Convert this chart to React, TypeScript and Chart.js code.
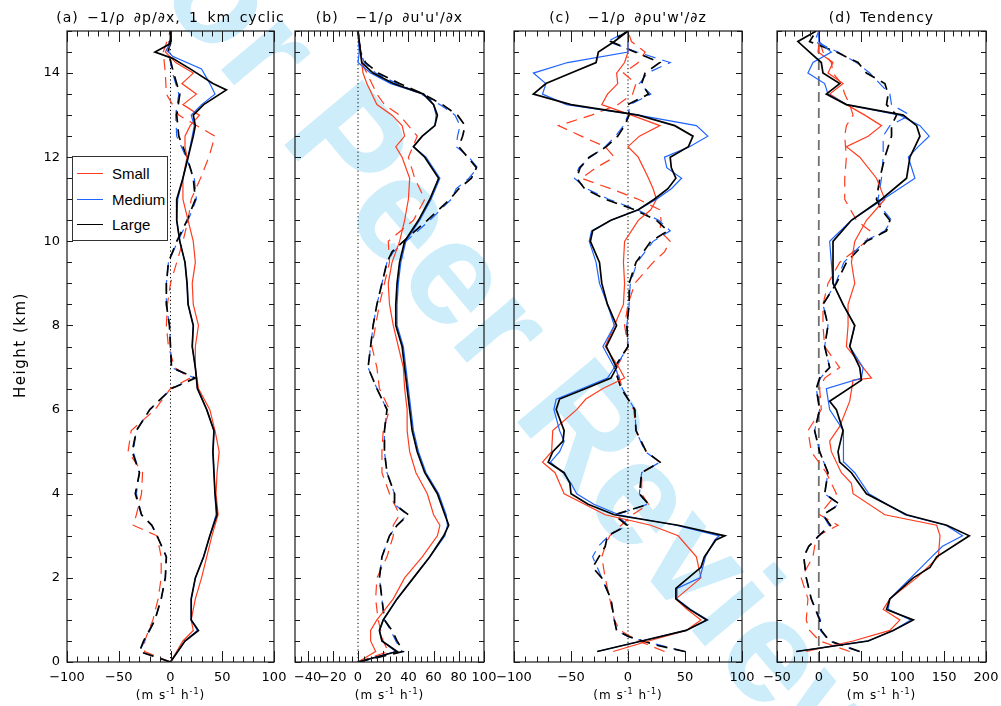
import React, { useEffect, useRef } from "react";
import { Chart, registerables } from "chart.js";

Chart.register(...registerables);

type Pair = [number, number]; // [height (km), value (m s-1 h-1)]

// ---------- tick labels ----------
const HEIGHT_TICKS = [0, 2, 4, 6, 8, 10, 12, 14];
const X_TICKS_A = [-100, -50, 0, 50, 100];
const X_TICKS_B = [-40, -20, 0, 20, 40, 60, 80, 100];
const X_TICKS_C = [-100, -50, 0, 50, 100];
const X_TICKS_D = [-50, 0, 50, 100, 150, 200];
const LEGEND_LABELS = ["Small", "Medium", "Large"];

// ---------- (a) pressure gradient ----------
const A_SMALL: Pair[] = [[0,0],[0.5,12],[0.75,22],[1,20],[1.5,24],[2,30],[2.5,35],[3,40],[3.5,46],[4,44],[4.5,45],[5,47],[5.5,43],[6,38],[6.5,27],[7,24],[7.5,24],[8,27],[8.5,22],[9,21],[9.5,24],[10,22],[10.5,17],[11,12],[11.5,12],[12,16],[12.25,14],[12.5,14],[12.75,19],[13,28],[13.25,12],[13.5,25],[13.75,11],[14,22],[14.25,5],[14.5,-5],[14.7,0],[15,0]];
const A_MEDIUM: Pair[] = [[0,0],[0.5,14],[0.75,26],[1,20],[1.5,20],[2,24],[2.5,32],[3,38],[3.5,44],[4,43],[4.5,42],[5,41],[5.5,42],[6,35],[6.5,26],[7,24],[7.5,21],[8,22],[8.5,17],[9,16],[9.5,14],[10,9],[10.5,6],[11,7],[11.5,12],[12,17],[12.5,21],[12.75,23],[13,20],[13.25,30],[13.5,43],[13.75,38],[14.1,30],[14.4,2],[14.55,-4],[14.7,0],[15,0]];
const A_LARGE: Pair[] = [[0,0],[0.5,14],[0.75,27],[1,20],[1.5,20],[2,24],[2.5,32],[3,38],[3.5,45],[4,43],[4.5,42],[5,41],[5.5,42],[6,35],[6.5,26],[7,24],[7.5,21],[8,22],[8.5,17],[9,16],[9.5,14],[10,9],[10.5,6],[11,6],[11.5,12],[12,17],[12.5,22],[12.75,24],[13,22],[13.25,32],[13.6,54],[13.75,41],[14.1,19],[14.35,2],[14.5,-15],[14.7,0],[15,0]];
const A_SMALL_D: Pair[] = [[0,0],[0.25,-25],[0.5,-25],[1,-17],[1.5,-12],[2,-9],[2.5,-9],[3,-13],[3.25,-36],[3.5,-33],[4,-28],[4.5,-27],[5,-41],[5.5,-38],[6,-15],[6.5,0],[6.75,19],[7,4],[7.5,-2],[8,-4],[8.5,-3],[9,0],[9.5,6],[10,12],[10.5,17],[11,20],[11.5,29],[12,37],[12.5,43],[13,8],[13.5,-4],[14,-5],[14.5,-7],[15,0]];
const A_MEDIUM_D: Pair[] = [[0,0],[0.25,-30],[0.5,-25],[1,-15],[1.5,-9],[2,-5],[2.5,-4],[3,-13],[3.25,-18],[3.5,-28],[4,-33],[4.5,-30],[5,-36],[5.5,-33],[6,-20],[6.5,1],[6.75,23],[7,1],[7.5,0],[8,-1],[8.5,-4],[9,-4],[9.5,-2],[10,7],[10.5,17],[11,25],[11.5,23],[12,15],[12.5,6],[13,5],[13.5,8],[14,2],[14.5,-2],[15,0]];
const A_LARGE_D: Pair[] = [[0,0],[0.25,-30],[0.5,-26],[1,-15],[1.5,-9],[2,-5],[2.5,-4],[3,-13],[3.25,-18],[3.5,-28],[4,-34],[4.5,-30],[5,-37],[5.5,-33],[6,-20],[6.5,1],[6.75,24],[7,1],[7.5,0],[8,-1],[8.5,-4],[9,-4],[9.5,-2],[10,6],[10.5,16],[11,24],[11.5,22],[12,16],[12.5,8],[13,6],[13.5,9],[14,3],[14.5,-2],[15,0]];

// ---------- (b) horizontal flux convergence ----------
const B_SMALL: Pair[] = [[0,0],[0.25,14],[0.5,10],[0.75,10],[1,15],[1.5,28],[2,37],[2.5,51],[3,63],[3.25,65],[3.5,60],[4,55],[4.5,46],[5,41],[5.5,39],[6,39],[6.5,37],[7,36],[7.5,32],[8,28],[8.5,25],[9,24],[9.5,27],[10,33],[10.5,37],[11,40],[11.5,41],[12,35],[12.25,30],[12.5,37],[12.75,35],[13,27],[13.25,15],[13.5,11],[13.75,7],[14,4],[14.5,2],[15,0]];
const B_MEDIUM: Pair[] = [[0,0],[0.25,30],[0.5,19],[0.75,17],[1,20],[1.5,31],[2,44],[2.5,57],[3,69],[3.25,71],[3.5,70],[4,64],[4.5,54],[5,48],[5.5,44],[6,42],[6.5,40],[7,38],[7.5,36],[8,31],[8.5,31],[9,32],[9.5,34],[10,38],[10.5,49],[11,58],[11.5,65],[12,54],[12.25,44],[12.5,51],[12.75,61],[13,62],[13.25,60],[13.5,52],[13.75,26],[14,10],[14.25,0],[14.5,1],[15,0]];
const B_LARGE: Pair[] = [[0,0],[0.25,31],[0.5,19],[0.75,17],[1,20],[1.5,31],[2,44],[2.5,57],[3,68],[3.25,72],[3.5,69],[4,63],[4.5,53],[5,47],[5.5,43],[6,41],[6.5,39],[7,37],[7.5,35],[8,30],[8.5,30],[9,31],[9.5,33],[10,37],[10.5,48],[11,57],[11.5,64],[12,53],[12.25,44],[12.5,51],[12.75,61],[13,63],[13.25,60],[13.5,52],[13.75,28],[14,12],[14.25,3],[14.5,2],[15,0]];
const B_SMALL_D: Pair[] = [[0,0],[0.25,24],[0.5,20],[1,16],[1.5,14],[2,15],[2.5,23],[3,28],[3.25,28],[3.5,33],[4,25],[4.5,19],[5,19],[5.5,20],[6,25],[6.5,17],[7,15],[7.5,11],[8,14],[8.5,17],[9,21],[9.5,25],[10,24],[10.5,44],[11,53],[11.5,45],[12,40],[12.5,47],[12.75,40],[13,33],[13.25,21],[13.5,15],[13.75,11],[14,7],[14.25,3],[14.5,2],[15,0]];
const B_MEDIUM_D: Pair[] = [[0,0],[0.25,35],[0.5,30],[0.75,26],[1,21],[1.5,19],[2,17],[2.5,19],[3,25],[3.25,31],[3.5,39],[3.75,29],[4,29],[4.5,23],[5,21],[5.5,21],[6,23],[6.5,15],[7,8],[7.5,10],[8,12],[8.5,15],[9,19],[9.5,23],[9.75,28],[10,38],[10.5,57],[11,74],[11.25,78],[11.5,88],[11.75,95],[12,88],[12.25,78],[12.5,79],[12.75,81],[13,77],[13.25,65],[13.5,50],[13.75,31],[14,14],[14.25,5],[14.5,2],[15,0]];
const B_LARGE_D: Pair[] = [[0,0],[0.25,36],[0.5,31],[0.75,27],[1,21],[1.5,19],[2,17],[2.5,19],[3,25],[3.25,31],[3.5,40],[3.75,29],[4,29],[4.5,23],[5,21],[5.5,21],[6,23],[6.5,15],[7,8],[7.5,10],[8,12],[8.5,15],[9,19],[9.5,23],[9.75,27],[10,36],[10.5,55],[11,73],[11.25,80],[11.5,90],[11.75,94],[12,87],[12.25,80],[12.5,83],[12.75,85],[13,79],[13.25,67],[13.5,52],[13.75,33],[14,16],[14.25,6],[14.5,2],[15,0]];

// ---------- (c) vertical flux convergence ----------
const C_SMALL: Pair[] = [[0.25,-13],[0.5,18],[0.75,51],[1,64],[1.25,52],[1.5,42],[2,64],[2.5,60],[3,44],[3.25,20],[3.5,-20],[3.75,-38],[4,-56],[4.5,-64],[4.75,-75],[5,-67],[5.5,-66],[6,-45],[6.25,-37],[6.5,-22],[6.75,-3],[7,-8],[7.5,-20],[8,-12],[8.5,-4],[9,-3],[9.5,-4],[10,-3],[10.5,9],[10.75,20],[11,25],[11.25,22],[11.5,18],[12,9],[12.25,0],[12.5,10],[12.75,28],[13,3],[13.25,-23],[13.5,-18],[13.75,-9],[14,-10],[14.25,-3],[14.5,0],[15,0]];
const C_MEDIUM: Pair[] = [[0.25,-27],[0.5,12],[0.75,51],[1,70],[1.25,55],[1.5,43],[1.75,43],[2,63],[2.5,68],[2.9,76],[3,80],[3.25,42],[3.5,-8],[3.75,-30],[4,-45],[4.25,-50],[4.5,-57],[4.75,-68],[5,-60],[5.25,-56],[5.5,-60],[6,-65],[6.25,-63],[6.5,-40],[6.75,-18],[7,-12],[7.5,-22],[8,-12],[8.5,-18],[9,-25],[9.5,-28],[10,-34],[10.25,-32],[10.5,-15],[10.75,9],[11,25],[11.25,38],[11.5,47],[11.75,34],[12,32],[12.25,54],[12.5,70],[12.75,60],[13,9],[13.25,-54],[13.5,-75],[13.75,-72],[14,-83],[14.25,-53],[14.5,0],[15,0]];
const C_LARGE: Pair[] = [[0.25,-27],[0.5,12],[0.75,51],[1,69],[1.25,54],[1.5,42],[1.75,42],[2.25,64],[2.5,67],[2.9,77],[3,85],[3.25,44],[3.5,-12],[3.75,-35],[4,-50],[4.25,-51],[4.5,-56],[4.75,-70],[5,-66],[5.25,-57],[5.5,-56],[6,-63],[6.25,-60],[6.5,-37],[6.75,-15],[7,-10],[7.5,-19],[8,-10],[8.5,-18],[9,-23],[9.5,-25],[10,-33],[10.25,-31],[10.5,-15],[10.75,9],[11,23],[11.25,35],[11.5,42],[11.75,38],[12,37],[12.25,53],[12.5,57],[12.75,41],[13,9],[13.25,-50],[13.5,-83],[13.75,-72],[14,-50],[14.25,-28],[14.5,-26],[14.75,-12],[15,0]];
const C_SMALL_D: Pair[] = [[0.25,32],[0.5,9],[0.75,-7],[1,-12],[1.5,-16],[2,-20],[2.5,-23],[2.75,-20],[3,-16],[3.25,-6],[3.5,4],[3.75,18],[4,12],[4.5,12],[4.75,28],[5,16],[5.5,7],[6,5],[6.5,-5],[7,-10],[7.5,0],[8,-3],[8.5,0],[9,6],[9.5,22],[9.75,32],[10,37],[10.25,28],[10.5,29],[10.75,28],[11,9],[11.25,-15],[11.5,-41],[11.75,-28],[12,-12],[12.25,-20],[12.5,-41],[12.75,-61],[13,-32],[13.25,-9],[13.5,4],[13.75,7],[14,-4],[14.25,9],[14.5,15],[14.75,3],[15,0]];
const C_MEDIUM_D: Pair[] = [[0.25,49],[0.4,28],[0.6,0],[0.75,-10],[1,-12],[1.5,-15],[2,-23],[2.5,-31],[2.75,-26],[3,-17],[3.25,0],[3.5,-10],[3.75,17],[4,10],[4.5,12],[4.75,28],[5,15],[5.5,7],[6,6],[6.5,-5],[7,-11],[7.5,0],[8,-1],[8.5,1],[9,2],[9.5,8],[10,22],[10.25,37],[10.5,27],[10.75,8],[11,-17],[11.25,-36],[11.5,-47],[11.75,-43],[12,-33],[12.25,-20],[12.5,-11],[12.75,-4],[13,0],[13.25,2],[13.5,20],[13.75,10],[14,17],[14.25,37],[14.5,8],[14.75,-18],[15,0]];
const C_LARGE_D: Pair[] = [[0.25,50],[0.4,25],[0.6,1],[0.75,-10],[1,-12],[1.5,-15],[2,-23],[2.25,-31],[2.75,-20],[3,-18],[3.25,-1],[3.5,-12],[3.75,18],[4,10],[4.5,12],[4.75,28],[5,16],[5.5,7],[6,6],[6.5,-6],[7,-12],[7.5,0],[8,-1],[8.5,1],[9,1],[9.5,7],[10,20],[10.25,35],[10.5,25],[10.75,6],[11,-20],[11.25,-38],[11.5,-45],[11.75,-42],[12,-34],[12.25,-19],[12.5,-9],[12.75,-3],[13,1],[13.25,0],[13.5,18],[13.75,12],[14,15],[14.25,28],[14.5,6],[14.75,-15],[15,0]];

// ---------- (d) tendency ----------
const D_SMALL: Pair[] = [[0.25,-15],[0.5,41],[0.75,85],[1,97],[1.25,77],[1.5,85],[2,117],[2.5,143],[3,145],[3.25,141],[3.5,79],[4,41],[4.25,39],[4.5,27],[5,15],[5.25,13],[5.6,25],[6.2,37],[6.7,41],[6.75,63],[7,53],[7.5,33],[8,35],[8.5,35],[9,43],[9.5,39],[10,43],[10.5,57],[11,79],[11.5,69],[12,49],[12.25,33],[12.5,59],[12.75,75],[13,55],[13.25,33],[13.5,13],[13.75,29],[14,11],[14.25,17],[14.5,-1],[14.75,1],[15,0]];
const D_MEDIUM: Pair[] = [[0.25,-27],[0.5,59],[0.75,89],[1,110],[1.25,83],[1.5,85],[2,110],[2.5,135],[2.75,148],[3,172],[3.25,152],[3.5,103],[4,60],[4.5,43],[4.75,30],[5,30],[5.5,29],[6,13],[6.5,9],[6.75,51],[7,53],[7.5,37],[8,43],[8.5,29],[9,17],[9.5,15],[10,13],[10.5,39],[11,77],[11.5,115],[12,107],[12.25,119],[12.5,132],[12.75,121],[13,97],[13.25,33],[13.5,11],[13.75,7],[14,-13],[14.25,-7],[14.5,15],[14.75,0],[15,0]];
const D_LARGE: Pair[] = [[0.25,-27],[0.5,59],[0.75,89],[1,113],[1.25,81],[1.5,85],[2,113],[2.25,133],[2.5,141],[3,180],[3.25,153],[3.5,105],[4,57],[4.5,39],[4.75,25],[5,23],[5.5,29],[6,21],[6.2,13],[6.7,51],[7,49],[7.5,37],[8,43],[8.5,29],[9,17],[9.5,17],[10,17],[10.5,39],[11,75],[11.5,105],[12,109],[12.5,121],[12.75,117],[13,101],[13.25,33],[13.5,9],[13.75,25],[14,5],[14.25,3],[14.5,-11],[14.75,-25],[15,-3]];
const D_SMALL_D: Pair[] = [[0.25,37],[0.5,1],[0.75,-11],[1,-15],[1.5,-13],[2,-21],[2.5,-7],[2.75,-5],[3,-1],[3.25,23],[3.5,1],[4,21],[4.5,9],[5,-9],[5.5,-13],[6,3],[6.5,1],[6.75,7],[7,25],[7.5,7],[8,5],[8.5,5],[9,11],[9.5,25],[10,57],[10.25,61],[10.5,45],[11,31],[11.5,31],[12,33],[12.5,31],[12.75,33],[13,41],[13.25,37],[13.5,31],[13.75,27],[14,17],[14.25,15],[14.5,5],[14.75,1],[15,0]];
const D_MEDIUM_D: Pair[] = [[0.25,48],[0.5,12],[0.75,2],[1,2],[1.5,-9],[2,-15],[2.5,-18],[2.75,-12],[3,0],[3.25,12],[3.5,5],[3.75,24],[4,7],[4.5,11],[5,1],[5.5,-5],[6,1],[6.25,-1],[6.5,-3],[6.75,2],[7,13],[7.5,7],[8,11],[8.5,5],[9,20],[9.5,30],[10,55],[10.25,79],[10.5,87],[10.75,77],[11,71],[11.5,75],[12,77],[12.5,77],[12.75,85],[13,109],[13.25,87],[13.5,85],[13.75,73],[14,61],[14.25,45],[14.5,23],[14.75,-5],[15,0]];
const D_LARGE_D: Pair[] = [[0.25,49],[0.5,13],[0.75,3],[1,1],[1.5,-9],[2,-15],[2.5,-18],[2.75,-12],[3,0],[3.25,14],[3.5,5],[3.75,25],[4,7],[4.5,11],[5,1],[5.5,-5],[6,1],[6.25,-1],[6.5,-3],[6.75,1],[7,13],[7.5,7],[8,11],[8.5,5],[9,21],[9.5,33],[10,57],[10.25,81],[10.5,85],[10.75,75],[11,69],[11.5,73],[12,79],[12.5,87],[12.75,87],[13,93],[13.25,81],[13.5,83],[13.75,79],[14,57],[14.25,47],[14.5,21],[14.75,-11],[15,-3]];

// ---------- styling / layout ----------
const FONT = '"DejaVu Sans", "Liberation Sans", sans-serif';
const RED = "#ff3c1e";
const BLUE = "#1e64ff";
const BLACK = "#000000";
const FRAME_TOP = 31;
const FRAME_BOTTOM = 662;
const CANVAS_H = 706;
const Z_MAX = 15;

interface PanelSpec {
  key: string;
  title: string;
  left: number;
  right: number;
  xMin: number;
  xMax: number;
  xLabels: number[];
  majorStep: number;
  minorStep: number;
  showY: boolean;
  zeroDashed: boolean;
  series: Pair[][]; // small, medium, large, smallD, mediumD, largeD
}

const PANELS: PanelSpec[] = [
  { key: "a", title: "(a) \u22121/\u03c1 \u2202p/\u2202x, 1 km cyclic", left: 67, right: 274, xMin: -100, xMax: 100, xLabels: X_TICKS_A, majorStep: 50, minorStep: 10, showY: true, zeroDashed: false,
    series: [A_SMALL, A_MEDIUM, A_LARGE, A_SMALL_D, A_MEDIUM_D, A_LARGE_D] },
  { key: "b", title: "(b)  \u22121/\u03c1 \u2202u'u'/\u2202x", left: 295, right: 484, xMin: -50, xMax: 100, xLabels: X_TICKS_B, majorStep: 20, minorStep: 5, showY: false, zeroDashed: false,
    series: [B_SMALL, B_MEDIUM, B_LARGE, B_SMALL_D, B_MEDIUM_D, B_LARGE_D] },
  { key: "c", title: "(c)  \u22121/\u03c1 \u2202\u03c1u'w'/\u2202z", left: 514, right: 742, xMin: -100, xMax: 100, xLabels: X_TICKS_C, majorStep: 50, minorStep: 10, showY: false, zeroDashed: false,
    series: [C_SMALL, C_MEDIUM, C_LARGE, C_SMALL_D, C_MEDIUM_D, C_LARGE_D] },
  { key: "d", title: "(d) Tendency", left: 777, right: 986, xMin: -50, xMax: 200, xLabels: X_TICKS_D, majorStep: 50, minorStep: 10, showY: false, zeroDashed: true,
    series: [D_SMALL, D_MEDIUM, D_LARGE, D_SMALL_D, D_MEDIUM_D, D_LARGE_D] },
];

const fmt = (v: number) => String(v).replace("-", "\u2212");

function Panel({ spec }: { spec: PanelSpec }) {
  const ref = useRef<HTMLCanvasElement | null>(null);
  const padL = spec.showY ? spec.left : 40;
  const padR = 40;
  const cw = padL + (spec.right - spec.left) + padR;

  useEffect(() => {
    const canvas = ref.current;
    if (!canvas) return;
    const toXY = (p: Pair[]) => p.map(([z, v]) => ({ x: v, y: z }));
    const colors = [RED, BLUE, BLACK];
    const widths = [1.2, 1.2, 1.7];
    const datasets: any[] = [];
    spec.series.forEach((s, i) => {
      const dashed = i >= 3;
      const c = i % 3;
      datasets.push({
        data: toXY(s),
        borderColor: colors[c],
        borderWidth: widths[c],
        borderDash: dashed ? [11, 7] : [],
        showLine: true,
        pointRadius: 0,
        fill: false,
        tension: 0,
        order: (dashed ? 10 : 5) - c,
      });
    });
    datasets.push({
      data: [{ x: 0, y: 0 }, { x: 0, y: Z_MAX }],
      borderColor: spec.zeroDashed ? "#707070" : "#000",
      borderWidth: spec.zeroDashed ? 1.8 : 1,
      borderDash: spec.zeroDashed ? [10, 6] : [1.2, 2.6],
      showLine: true,
      pointRadius: 0,
      order: 20,
    });

    const framePlugin = {
      id: "frameTicks" + spec.key,
      afterDraw(chart: any) {
        const { ctx, chartArea, scales } = chart;
        const { left, right, top, bottom } = chartArea;
        const xs = scales.x;
        const ys = scales.y;
        ctx.save();
        ctx.strokeStyle = "#1a1a1a";
        ctx.lineWidth = 1;
        ctx.setLineDash([]);
        ctx.beginPath();
        for (let v = spec.xMin; v <= spec.xMax; v += spec.minorStep) {
          const px = Math.round(xs.getPixelForValue(v)) + 0.5;
          const len = v % spec.majorStep === 0 ? 11 : 5.5;
          ctx.moveTo(px, bottom);
          ctx.lineTo(px, bottom - len);
          ctx.moveTo(px, top);
          ctx.lineTo(px, top + len);
        }
        for (let k = 0; k <= 30; k++) {
          const z = k * 0.5;
          const py = Math.round(ys.getPixelForValue(z)) + 0.5;
          const len = k % 4 === 0 ? 6 : 5;
          ctx.moveTo(left, py);
          ctx.lineTo(left + len, py);
          ctx.moveTo(right, py);
          ctx.lineTo(right - len, py);
        }
        ctx.stroke();
        ctx.lineWidth = 1.2;
        ctx.strokeRect(left, top, right - left, bottom - top);
        ctx.restore();
      },
    };

    const chart = new Chart(canvas, {
      type: "scatter",
      data: { datasets },
      options: {
        animation: false,
        responsive: false,
        maintainAspectRatio: false,
        devicePixelRatio: 1,
        events: [],
        layout: { padding: { top: FRAME_TOP, right: padR, left: 0, bottom: 0 } },
        plugins: { legend: { display: false }, tooltip: { enabled: false }, title: { display: false } },
        scales: {
          x: {
            type: "linear",
            position: "bottom",
            min: spec.xMin,
            max: spec.xMax,
            grid: { display: false, drawTicks: false },
            border: { display: false },
            afterBuildTicks: (s: any) => {
              s.ticks = spec.xLabels.map((v) => ({ value: v }));
            },
            afterFit: (s: any) => {
              s.height = CANVAS_H - FRAME_BOTTOM;
              s.paddingLeft = 0;
              s.paddingRight = 0;
            },
            ticks: {
              autoSkip: false,
              maxRotation: 0,
              minRotation: 0,
              padding: 8,
              color: "#000",
              font: { family: FONT, size: 13 },
              callback: (v: any) => fmt(Number(v)),
            },
          },
          y: {
            type: "linear",
            position: "left",
            min: 0,
            max: Z_MAX,
            grid: { display: false, drawTicks: false },
            border: { display: false },
            afterBuildTicks: (s: any) => {
              s.ticks = HEIGHT_TICKS.map((v) => ({ value: v }));
            },
            afterFit: (s: any) => {
              s.width = padL;
              s.paddingTop = 0;
              s.paddingBottom = 0;
            },
            ticks: {
              display: spec.showY,
              padding: 7,
              color: "#000",
              font: { family: FONT, size: 13 },
              callback: (v: any) => String(v),
            },
          },
        },
      } as any,
      plugins: [framePlugin],
    });
    return () => chart.destroy();
  }, []);

  return (
    <canvas
      ref={ref}
      width={cw}
      height={CANVAS_H}
      style={{ position: "absolute", left: spec.left - padL, top: 0, width: cw, height: CANVAS_H }}
    />
  );
}

export default function App() {
  const legendColors = [RED, BLUE, BLACK];
  return (
    <div style={{ position: "absolute", left: 0, top: 0, width: 1001, height: 706, background: "#fff", overflow: "hidden", fontFamily: FONT, color: "#000" }}>
      <div
        style={{
          position: "absolute",
          left: 194,
          top: -157,
          transformOrigin: "0 0",
          transform: "rotate(50deg)",
          font: 'bold 148px "Liberation Sans", sans-serif',
          lineHeight: 1,
          whiteSpace: "nowrap",
          color: "#cdedfb",
        }}
      >
        For Peer Review
      </div>
      {PANELS.map((p) => (
        <Panel key={p.key} spec={p} />
      ))}
      {PANELS.map((p) => (
        <div key={"t" + p.key} style={{ position: "absolute", left: (p.left + p.right) / 2 - 200, width: 400, top: 8, lineHeight: "18px", textAlign: "center", fontSize: 14, letterSpacing: 1, wordSpacing: 3, whiteSpace: "pre" }}>
          {p.title}
        </div>
      ))}
      {PANELS.map((p) => (
        <div key={"u" + p.key} style={{ position: "absolute", left: (p.left + p.right) / 2 - 100, width: 200, top: 684, lineHeight: "16px", textAlign: "center", fontSize: 12, letterSpacing: 1, whiteSpace: "pre" }}>
          (m s<sup style={{ fontSize: 8, verticalAlign: 5 }}>-1</sup> h<sup style={{ fontSize: 8, verticalAlign: 5 }}>-1</sup>)
        </div>
      ))}
      <div style={{ position: "absolute", left: 20 - 100, top: 345 - 10, width: 200, height: 20, lineHeight: "20px", textAlign: "center", transform: "rotate(-90deg)", fontSize: 15, letterSpacing: 1.5, whiteSpace: "pre" }}>
        Height (km)
      </div>
      <div style={{ position: "absolute", left: 72, top: 156, width: 96, height: 85, border: "1px solid #333", background: "#fff", boxSizing: "border-box" }}>
        {LEGEND_LABELS.map((lab, i) => (
          <div key={lab} style={{ position: "absolute", left: 0, top: 7 + i * 25.5, height: 20, width: 95 }}>
            <div style={{ position: "absolute", left: 4, top: 9, width: 26, height: 0, borderTop: `${i === 2 ? 1.7 : 1.3}px solid ${legendColors[i]}` }} />
            <div style={{ position: "absolute", left: 39, top: 0, lineHeight: "20px", fontSize: 15, fontFamily: '"Liberation Sans", sans-serif' }}>{lab}</div>
          </div>
        ))}
      </div>
    </div>
  );
}
